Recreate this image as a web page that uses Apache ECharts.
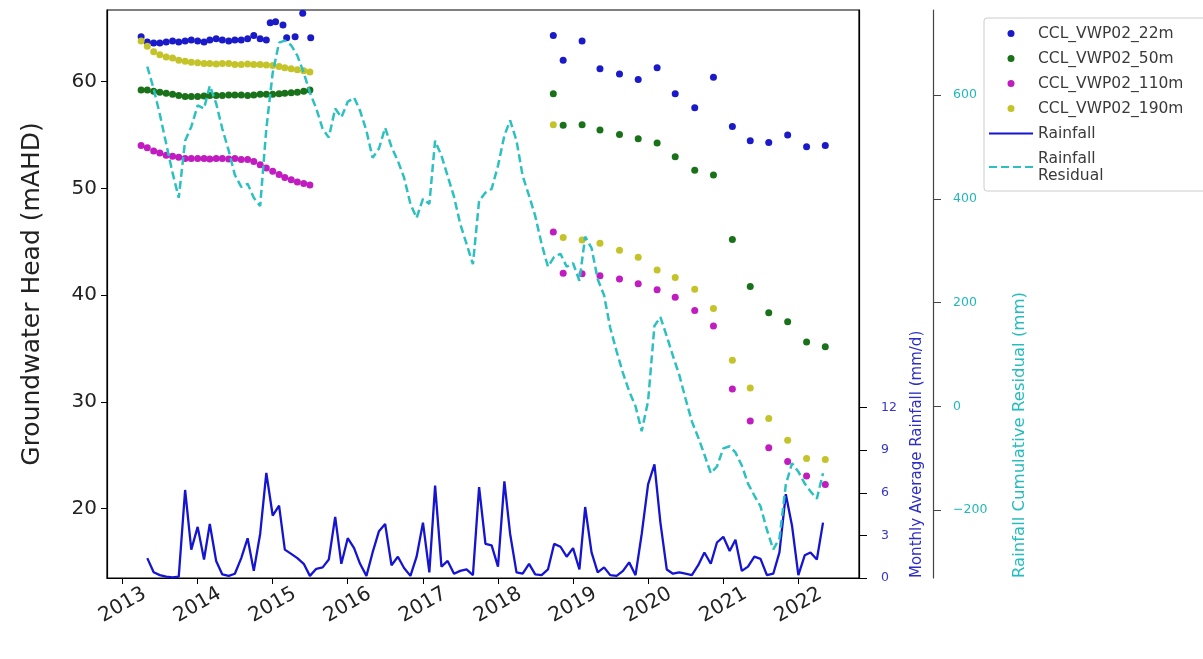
<!DOCTYPE html>
<html>
<head>
<meta charset="utf-8">
<title>CCL_VWP02 groundwater head and rainfall</title>
<script src="https://cdn.jsdelivr.net/npm/echarts@6/dist/echarts.min.js"></script>
<style>
html, body { margin: 0; padding: 0; background: #fff; }
#chart { width: 1203px; height: 659px; }
</style>
</head>
<body>
<div id="chart"></div>
<script>
// early logger record (monthly read-off of the dense traces)
var earlyMonths = ['2013-04','2013-05','2013-06','2013-07','2013-08','2013-09','2013-10','2013-11','2013-12',
  '2014-01','2014-02','2014-03','2014-04','2014-05','2014-06','2014-07','2014-08','2014-09','2014-10','2014-11','2014-12',
  '2015-01','2015-02','2015-03','2015-04','2015-05','2015-06','2015-07'];
var gw22Early = [64.2, 63.7, 63.6, 63.6, 63.7, 63.8, 63.7, 63.8, 63.9, 63.8, 63.7, 63.9, 64.0, 63.9, 63.8, 63.9, 63.9, 64.0, 64.3, 64.0, 63.9];
var gw22SparseDates = ['2014-12-20','2015-01-15','2015-02-20','2015-03-10','2015-04-20','2015-05-27','2015-07-05'];
var gw22Sparse = [65.5, 65.6, 65.3, 64.1, 64.2, 66.4, 64.1];
var gw50Early = [59.2, 59.2, 59.1, 59.0, 58.9, 58.8, 58.7, 58.6, 58.6, 58.6, 58.65, 58.7, 58.7, 58.7, 58.75, 58.75, 58.75, 58.7, 58.75, 58.8, 58.8, 58.8, 58.85, 58.9, 58.95, 59.0, 59.1, 59.2];
var gw110Early = [54.0, 53.8, 53.5, 53.3, 53.1, 53.0, 52.9, 52.8, 52.8, 52.8, 52.8, 52.75, 52.8, 52.8, 52.75, 52.8, 52.7, 52.7, 52.5, 52.2, 51.9, 51.6, 51.3, 51.0, 50.8, 50.6, 50.45, 50.3];
var gw190Early = [63.8, 63.3, 62.8, 62.5, 62.3, 62.2, 62.0, 61.9, 61.8, 61.75, 61.7, 61.7, 61.65, 61.7, 61.7, 61.6, 61.6, 61.65, 61.6, 61.6, 61.55, 61.5, 61.4, 61.3, 61.2, 61.1, 61.0, 60.9];

// later manual readings
var lateDates = ['2018-09-27','2018-11-14','2019-02-14','2019-05-12','2019-08-15','2019-11-14','2020-02-14','2020-05-12',
  '2020-08-15','2020-11-14','2021-02-14','2021-05-12','2021-08-10','2021-11-10','2022-02-10','2022-05-12'];
var gw22Late = [64.3, 62.0, 63.8, 61.2, 60.7, 60.2, 61.3, 58.85, 57.55, 60.4, 55.8, 54.45, 54.3, 55.0, 53.9, 54.0];
var gw50Late = [58.85, 55.9, 55.95, 55.45, 55.05, 54.65, 54.25, 52.95, 51.7, 51.25, 45.2, 40.8, 38.35, 37.5, 35.6, 35.15];
var gw110Late = [45.9, 42.05, 42.0, 41.8, 41.5, 41.05, 40.5, 39.8, 38.55, 37.1, 31.2, 28.2, 25.7, 24.4, 23.05, 22.25];
var gw190Late = [55.95, 45.4, 45.15, 44.85, 44.2, 43.55, 42.35, 41.65, 40.55, 38.75, 33.9, 31.3, 28.45, 26.4, 24.7, 24.6];

// monthly rainfall and cumulative residual
var months = ['2013-05','2013-06','2013-07','2013-08','2013-09','2013-10','2013-11','2013-12',
  '2014-01','2014-02','2014-03','2014-04','2014-05','2014-06','2014-07','2014-08','2014-09','2014-10','2014-11','2014-12',
  '2015-01','2015-02','2015-03','2015-04','2015-05','2015-06','2015-07','2015-08','2015-09','2015-10','2015-11','2015-12',
  '2016-01','2016-02','2016-03','2016-04','2016-05','2016-06','2016-07','2016-08','2016-09','2016-10','2016-11','2016-12',
  '2017-01','2017-02','2017-03','2017-04','2017-05','2017-06','2017-07','2017-08','2017-09','2017-10','2017-11','2017-12',
  '2018-01','2018-02','2018-03','2018-04','2018-05','2018-06','2018-07','2018-08','2018-09','2018-10','2018-11','2018-12',
  '2019-01','2019-02','2019-03','2019-04','2019-05','2019-06','2019-07','2019-08','2019-09','2019-10','2019-11','2019-12',
  '2020-01','2020-02','2020-03','2020-04','2020-05','2020-06','2020-07','2020-08','2020-09','2020-10','2020-11','2020-12',
  '2021-01','2021-02','2021-03','2021-04','2021-05','2021-06','2021-07','2021-08','2021-09','2021-10','2021-11','2021-12',
  '2022-01','2022-02','2022-03','2022-04','2022-05'];
var rainfall = [1.4, 0.4, 0.2, 0.1, 0.05, 0.1, 6.2, 2.0, 3.6, 1.3,
  3.8, 1.2, 0.25, 0.15, 0.3, 1.4, 2.8, 0.5, 3.1, 7.4,
  4.4, 5.1, 2.0, 1.7, 1.4, 1.0, 0.15, 0.65, 0.75, 1.3,
  4.3, 1.0, 2.8, 2.1, 1.0, 0.15, 1.8, 3.3, 3.8, 0.9,
  1.5, 0.7, 0.15, 1.5, 3.9, 0.4, 6.5, 0.8, 1.2, 0.3,
  0.5, 0.6, 0.2, 6.4, 2.4, 2.3, 0.8, 6.8, 3.1, 0.4,
  0.3, 1.0, 0.25, 0.2, 0.6, 2.4, 2.2, 1.5, 2.1, 0.6,
  5.0, 1.8, 0.4, 0.75, 0.2, 0.15, 0.5, 1.1, 0.2, 3.1,
  6.6, 8.0, 3.9, 0.6, 0.3, 0.4, 0.3, 0.2, 0.9, 1.8,
  1.0, 2.5, 2.9, 1.9, 2.7, 0.5, 0.8, 1.5, 1.35, 0.2,
  0.3, 1.8, 5.9, 3.7, 0.2, 1.6, 1.8, 1.3, 3.9];
var residual = [655, 612, 563, 506, 450, 402, 512, 539, 580, 574,
  618, 584, 535, 493, 446, 423, 429, 402, 386, 535,
  643, 701, 705, 696, 676, 643, 605, 574, 535, 518,
  574, 557, 587, 595, 570, 531, 479, 497, 537, 500,
  473, 441, 390, 363, 400, 390, 512, 483, 444, 404,
  352, 313, 274, 396, 412, 419, 464, 522, 551, 512,
  444, 406, 367, 313, 269, 288, 294, 269, 276, 242,
  327, 305, 245, 214, 151, 106, 64, 29, 0, -48,
  10, 155, 172, 135, 97, 60, 15, -29, -60, -93,
  -129, -116, -81, -77, -89, -114, -149, -172, -193, -238,
  -276, -255, -151, -110, -126, -149, -164, -178, -129];

// axis ticks
var headTicks = [20, 30, 40, 50, 60];
var rainTicks = [0, 3, 6, 9, 12];
var residTicks = [-200, 0, 200, 400, 600];

var FONT = 'DejaVu Sans';
var YEAR_MS = 365 * 24 * 3600 * 1000;

function pairs(dates, vals) {
  return vals.map(function (v, i) { return [dates[i], v]; });
}
function scatter(name, color, parts) {
  var data = [];
  parts.forEach(function (p) { data = data.concat(p); });
  return {
    name: name, type: 'scatter', yAxisIndex: 0, symbolSize: 7, z: 2,
    itemStyle: { color: color, opacity: 1 }, data: data
  };
}
function isNewYear(v) {
  var d = new Date(v);
  return d.getMonth() === 0 && d.getDate() === 1;
}

var chart = echarts.init(document.getElementById('chart'));
var option = {
  animation: false,
  backgroundColor: '#fff',
  textStyle: { fontFamily: FONT },
  grid: { left: 107, right: 344, top: 10, bottom: 81, show: true, borderColor: '#000', borderWidth: 1.2 },
  legend: {
    orient: 'vertical', left: 984, top: 18, padding: [7, 40, 7, 4],
    itemWidth: 44, itemHeight: 7, itemGap: 8,
    backgroundColor: '#fff', borderColor: '#cccccc', borderWidth: 1, borderRadius: 3,
    textStyle: { fontFamily: FONT, fontSize: 15.5, color: '#3a3a3a', lineHeight: 17 },
    data: ['CCL_VWP02_22m', 'CCL_VWP02_50m', 'CCL_VWP02_110m', 'CCL_VWP02_190m',
      { name: 'Rainfall', itemStyle: { opacity: 0 } },
      { name: 'Rainfall\nResidual', itemStyle: { opacity: 0 } }]
  },
  xAxis: {
    type: 'time', min: '2012-10-17', max: '2022-10-23',
    minInterval: YEAR_MS, maxInterval: YEAR_MS,
    axisLine: { lineStyle: { color: '#000', width: 1.2 } },
    axisTick: { length: 6, lineStyle: { color: '#000' } },
    axisLabel: {
      rotate: 30, align: 'center', verticalAlign: 'middle', margin: 27,
      fontSize: 20, color: '#222', fontFamily: FONT, showMinLabel: false, showMaxLabel: false,
      formatter: function (v) { return isNewYear(v) ? String(new Date(v).getFullYear()) : ''; }
    },
    splitLine: { show: false }
  },
  yAxis: [{
    type: 'value', min: 13.5, max: 66.7,
    name: 'Groundwater Head (mAHD)', nameLocation: 'middle', nameGap: 62,
    nameTextStyle: { fontSize: 25, color: '#222', fontFamily: FONT },
    axisLine: { show: true, lineStyle: { color: '#000', width: 1.2 } },
    axisTick: { show: true, customValues: headTicks, length: 6, lineStyle: { color: '#000' } },
    axisLabel: { customValues: headTicks, fontSize: 20, color: '#222', margin: 10, fontFamily: FONT },
    splitLine: { show: false }
  }, {
    type: 'value', position: 'right', min: 0, max: 40,
    axisLine: { show: true, lineStyle: { color: '#000', width: 1.2 } },
    axisTick: { show: true, customValues: rainTicks, length: 8, lineStyle: { color: '#000' } },
    axisLabel: { customValues: rainTicks, fontSize: 12.5, color: '#3535c8', margin: 22, fontFamily: FONT },
    splitLine: { show: false }
  }, {
    type: 'value', position: 'right', offset: 74, min: -331, max: 764,
    axisLine: { show: true, lineStyle: { color: '#444', width: 1.2 } },
    axisTick: { show: true, customValues: residTicks, length: 8, lineStyle: { color: '#444' } },
    axisLabel: {
      customValues: residTicks, fontSize: 12.5, color: '#22b8b8', margin: 20, fontFamily: FONT,
      formatter: function (v) { return String(v).replace('-', '\u2212'); }
    },
    splitLine: { show: false }
  }],
  graphic: [{
    type: 'text', x: 917, y: 578, rotation: Math.PI / 2,
    style: { text: 'Monthly Average Rainfall (mm/d)', fill: '#2e2ec4', font: '15px "DejaVu Sans"', align: 'left', verticalAlign: 'middle' }
  }, {
    type: 'text', x: 1020, y: 578, rotation: Math.PI / 2,
    style: { text: 'Rainfall Cumulative Residual (mm)', fill: '#24bcbc', font: '16.5px "DejaVu Sans"', align: 'left', verticalAlign: 'middle' }
  }],
  series: [
    scatter('CCL_VWP02_22m', '#1a1ac8', [pairs(earlyMonths, gw22Early), pairs(gw22SparseDates, gw22Sparse), pairs(lateDates, gw22Late)]),
    scatter('CCL_VWP02_50m', '#197219', [pairs(earlyMonths, gw50Early), pairs(lateDates, gw50Late)]),
    scatter('CCL_VWP02_110m', '#c01cc0', [pairs(earlyMonths, gw110Early), pairs(lateDates, gw110Late)]),
    scatter('CCL_VWP02_190m', '#c4c42a', [pairs(earlyMonths, gw190Early), pairs(lateDates, gw190Late)]),
    {
      name: 'Rainfall', type: 'line', yAxisIndex: 1, symbol: 'none', z: 3,
      lineStyle: { color: '#1414d2', width: 2.3 }, itemStyle: { color: '#1414d2' },
      data: pairs(months, rainfall)
    },
    {
      name: 'Rainfall\nResidual', type: 'line', yAxisIndex: 2, symbol: 'none', z: 4,
      lineStyle: { color: '#2cc0c0', width: 2.5, type: [8, 4] }, itemStyle: { color: '#2cc0c0' },
      data: pairs(months, residual)
    }
  ]
};
chart.setOption(option);
</script>
</body>
</html>
